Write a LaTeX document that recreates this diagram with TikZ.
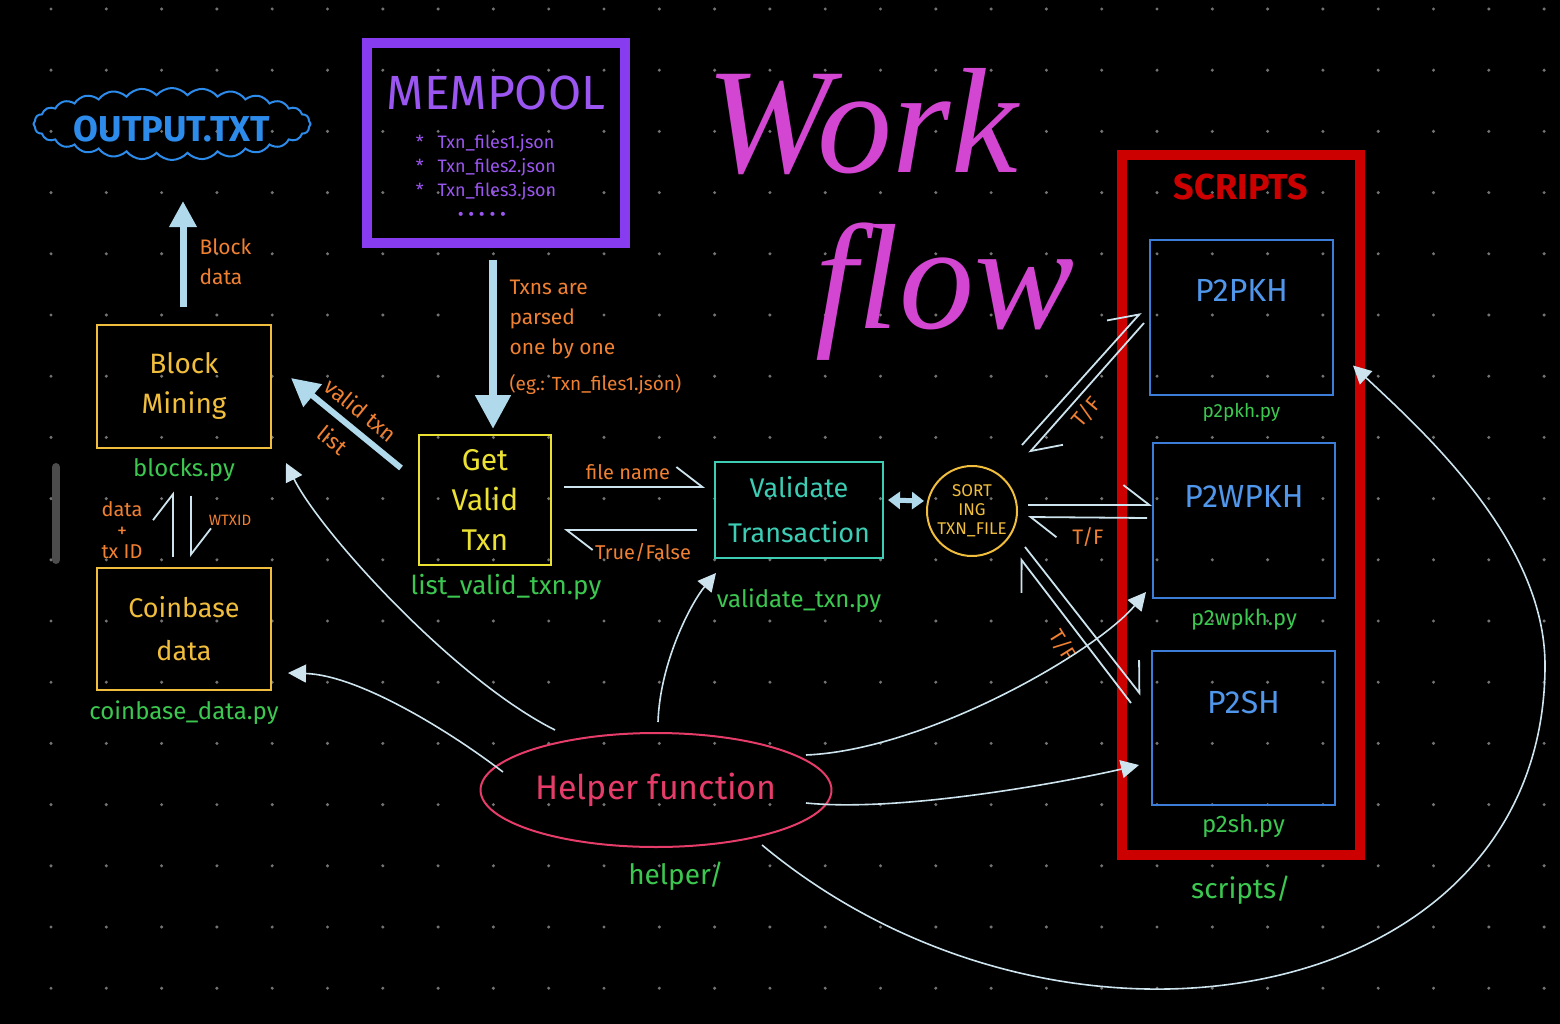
\documentclass[tikz,border=0pt]{standalone}
\usepackage{fontspec}
\setmainfont{Fira Sans}
\newfontfamily\titlefont{Liberation Serif}
\usetikzlibrary{shapes.geometric,shapes.symbols,arrows.meta,positioning,calc}

\definecolor{dotgray}{RGB}{115,115,115}
\definecolor{arrowblue}{RGB}{176,218,236}
\definecolor{thinblue}{RGB}{205,228,238}
\definecolor{labelorange}{RGB}{240,128,50}
\definecolor{filegreen}{RGB}{60,200,80}
\definecolor{mineyellow}{RGB}{240,190,60}
\definecolor{getyellow}{RGB}{235,225,50}
\definecolor{valteal}{RGB}{60,205,180}
\definecolor{poolpurple}{RGB}{135,60,240}
\definecolor{pooltext}{RGB}{155,85,240}
\definecolor{titlemagenta}{RGB}{210,70,210}
\definecolor{scriptred}{RGB}{205,0,0}
\definecolor{scriptblue}{RGB}{60,125,215}
\definecolor{scripttext}{RGB}{80,150,235}
\definecolor{helperpink}{RGB}{230,60,105}
\definecolor{cloudblue}{RGB}{45,140,235}

\newcommand{\fsz}[2]{\fontsize{#1}{#2}\selectfont}

\begin{document}
\begin{tikzpicture}[
    x=1pt, y=-1pt,
    box/.style={draw, line width=2pt, align=center, inner sep=0pt},
    pyname/.style={text=filegreen, font=\fsz{24}{28}},
    note/.style={text=labelorange, font=\fsz{21}{30}, align=center},
    scripttitle/.style={text=scripttext, font=\fsz{32}{36}},
    bigarrow/.style={draw=arrowblue, line width=7pt, -{Triangle[length=26pt,width=26pt]}},
    harp/.style={draw=thinblue, line width=1.8pt, -{Straight Barb[harpoon,length=26pt,width=40pt]}},
    helperline/.style={draw=thinblue, line width=1.6pt, -{Triangle[length=18pt,width=18pt]}}
]

\fill[black] (0,0) rectangle (1560,1024);
\useasboundingbox (0,0) rectangle (1560,1024);

\foreach \i in {0,...,27}
    \foreach \j in {0,...,16}
        \fill[dotgray] (51+55.3*\i, 9+61.2*\j) circle (1.7pt);

\draw[line width=8pt, line cap=round, draw=gray!60!black] (56,467) -- (56,560);

% title
\node[text=titlemagenta, font=\titlefont\itshape\fsz{150}{150}] (worktitle) at (862,122) {Work};
\node[text=titlemagenta, font=\titlefont\itshape\fsz{150}{150}] (flowtitle) at (945,292) {flow};

% left column
\node[cloud, draw=cloudblue, line width=2pt, cloud puffs=28, cloud puff arc=100, aspect=4,
    minimum width=277pt, minimum height=72pt, inner sep=0pt] (out) at (172,124) {};
\node[text=cloudblue, font=\bfseries\fsz{36}{38}, yshift=-5pt] (outtxt) at (out) {OUTPUT.TXT};

\node[box, draw=mineyellow, text=mineyellow, minimum width=174pt, minimum height=123pt,
    font=\fsz{28}{40}] (blk) at (184,386) {Block\\Mining};
\node[pyname, below=6pt of blk] (blkpy) {blocks.py};

\node[box, draw=mineyellow, text=mineyellow, minimum width=174pt, minimum height=122pt,
    font=\fsz{27}{43}] (coin) at (184,629) {Coinbase\\data};
\node[pyname, below=6pt of coin] (coinpy) {coinbase\_data.py};

\draw[bigarrow, shorten <=17pt, shorten >=40pt] ([xshift=-1pt]blk.north) -- ([xshift=-1pt]blk.north |- out.south);
\node[note, align=left, anchor=west] (blocknote) at (196,262) {Block\\data};

\draw[harp] ($(coin.north)+(-11,-10)$) -- ($(blk.south)+(-11,43)$);
\draw[harp] ($(blk.south)+(7,47)$) -- ($(coin.north)+(7,-10)$);
\node[note, font=\fsz{20}{21}] (datanote) at (122,530) {data\\+\\tx ID};
\node[note, font=\fsz{15}{18}] (wtxidnote) at (230,520) {WTXID};

% mempool
\node[box, draw=poolpurple, line width=10pt, minimum width=258pt, minimum height=200pt] (mem) at (496,143) {};
\node[text=pooltext, font=\fsz{48}{50}, below=34pt of mem.north] (memtitle) {MEMPOOL};
\node[text=pooltext, font=\fsz{18}{24}, align=left, below=18pt of memtitle, xshift=-10pt] (memlist)
    {*\hspace{14pt}Txn\_files1.json\\*\hspace{14pt}Txn\_files2.json\\*\hspace{14pt}Txn\_files3.json\\\hspace{42pt}• • • • •};

\node[box, draw=getyellow, text=getyellow, minimum width=132pt, minimum height=130pt,
    font=\fsz{30}{40}] (gvt) at (485,500) {Get\\Valid\\Txn};
\node[pyname, font=\fsz{26}{30}, below=5pt of gvt, xshift=21pt] (gvtpy) {list\_valid\_txn.py};

\draw[bigarrow, line width=8pt, -{Triangle[length=34pt,width=34pt]}, shorten <=12pt, shorten >=5pt]
    ([xshift=-3pt]mem.south) -- ([xshift=-3pt]mem.south |- gvt.north);
\node[note, align=left, anchor=north west] (parsenote) at (506,276)
    {Txns are\\parsed\\one by one\\[6pt]{\fsz{19}{20}(eg.: Txn\_files1.json)}};

\draw[bigarrow, line width=6pt, -{Triangle[length=28pt,width=28pt]}]
    ($(gvt.west)+(-17,-32)$) -- ($(blk.east)+(19,-8)$);
\node[note, font=\fsz{22}{24}, rotate=-39] (validnote) at (361,410) {valid txn};
\node[note, font=\fsz{22}{24}, rotate=-39] (listnote) at (333,440) {list};

% validation
\node[box, draw=valteal, text=valteal, minimum width=168pt, minimum height=96pt,
    font=\fsz{27}{45}] (val) at (799,510) {Validate\\Transaction};
\node[pyname, below=26pt of val] (valpy) {validate\_txn.py};

\draw[harp] ($(gvt.east |- val.west)+(12,-23)$) -- ($(val.west)+(-9,-23)$);
\draw[harp] ($(val.west)+(-17,20)$) -- ($(gvt.east |- val.west)+(12,20)$);
\node[note, font=\fsz{20}{24}] (filenote) at (628,472) {file name};
\node[note, font=\fsz{20}{24}] (boolnote) at (643,552) {True/False};

\node[circle, draw=mineyellow, line width=2pt, minimum size=90pt, inner sep=0pt,
    text=mineyellow, align=center, font=\fsz{17}{19}] (sort) at (972,511) {SORT\\ING\\TXN\_FILE};

\draw[draw=arrowblue, line width=5pt, {Triangle[length=12pt,width=17pt]}-{Triangle[length=12pt,width=17pt]}]
    ($(val.east)+(4,-10)$) -- ($(sort.west)+(-2,-10)$);

% scripts
\node[box, draw=scriptred, line width=10pt, minimum width=238pt, minimum height=700pt] (scr) at (1241,505) {};
\node[text=scriptred, font=\bfseries\fsz{36}{40}, below=20pt of scr.north] (scrtitle) {SCRIPTS};
\node[pyname, font=\fsz{28}{32}, below=12pt of scr] (scrpy) {scripts/};

\node[box, draw=scriptblue, minimum width=183pt, minimum height=155pt] (p2pkh) at (1241.5,317.5) {};
\node[scripttitle, below=37pt of p2pkh.north] (p2pkhtxt) {P2PKH};
\node[pyname, font=\fsz{19}{22}, below=4pt of p2pkh] (p2pkhpy) {p2pkh.py};

\node[box, draw=scriptblue, minimum width=182pt, minimum height=155pt] (p2wpkh) at (1244,520.5) {};
\node[scripttitle, below=40pt of p2wpkh.north] (p2wpkhtxt) {P2WPKH};
\node[pyname, font=\fsz{22}{26}, below=6pt of p2wpkh] (p2wpkhpy) {p2wpkh.py};

\node[box, draw=scriptblue, minimum width=183pt, minimum height=154pt] (p2sh) at (1243.5,728) {};
\node[scripttitle, below=38pt of p2sh.north] (p2shtxt) {P2SH};
\node[pyname, below=5pt of p2sh] (p2shpy) {p2sh.py};

\draw[harp] ($(sort)+(50,-66)$) -- ($(p2pkh.west)+(-8,-5)$);
\draw[harp] ($(p2pkh.west)+(-5,5.5)$) -- ($(sort)+(57,-58)$);
\draw[harp] ($(sort)+(56,-6)$) -- ($(p2wpkh.west)+(0,-15.5)$);
\draw[harp] ($(p2wpkh.west)+(-5,-2.5)$) -- ($(sort)+(56,6)$);
\draw[harp] ($(sort)+(53,36)$) -- ($(p2sh.west)+(-10,-33)$);
\draw[harp] ($(p2sh.west)+(-20,-25)$) -- ($(sort)+(48,47)$);
\node[note, rotate=50] (tfone) at (1086,412) {T/F};
\node[note] (tftwo) at (1088,537) {T/F};
\node[note, rotate=-58] (tfthree) at (1063,645) {T/F};

% helpers
\node[ellipse, draw=helperpink, line width=2pt, minimum width=294pt, minimum height=114pt,
    text=helperpink, font=\fsz{34}{38}] (helper) at (656,790) {Helper function};
\node[pyname, font=\fsz{28}{32}, below=10pt of helper, xshift=20pt] (helperpy) {helper/};

\coordinate (loopright) at (1545,665);

\draw[helperline] ($(helper)+(-153,-18)$) .. controls +(-55,-42) and +(70,2) .. ($(coin.east)+(16,44)$);
\draw[helperline] ($(helper)+(-101,-60)$) .. controls +(-100,-50) and +(35,70) .. ($(blk.east)+(14,77)$);
\draw[helperline] ($(helper)+(2,-68)$) .. controls +(2,-60) and +(-25,30) .. ($(val.south west)+(2,14)$);
\draw[helperline] ($(helper)+(150,-35)$) .. controls +(120,-5) and +(-50,60) .. ($(p2wpkh.south west)+(-6,-7)$);
\draw[helperline] ($(helper)+(150,13)$) .. controls +(100,10) and +(-60,14) .. ($(p2sh.west)+(-12,37)$);
\draw[helperline] ($(helper)+(106,55)$) .. controls +(300,250) and +(0,345) .. (loopright)
    .. controls +(0,-125) and +(68,64) .. ($(p2pkh.east)+(19,48)$);

\end{tikzpicture}
\end{document}
